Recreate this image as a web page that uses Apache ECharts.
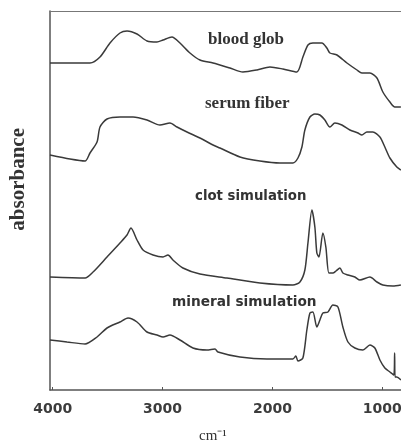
<!DOCTYPE html>
<html>
<head>
<meta charset="utf-8">
<script src="https://cdn.jsdelivr.net/npm/echarts@6/dist/echarts.min.js"></script>
<style>
html,body{margin:0;padding:0;background:#fff;}
#chart{width:401px;height:444px;}
</style>
</head>
<body>
<div id="chart"></div>
<script>
// Wavenumber ticks (cm^-1)
const xTicks = [4000, 3000, 2000, 1000];

// Spectra: [wavenumber, absorbance (offset, arbitrary units)]
const bloodGlob = [
  [4025,3.27],[3661,3.27],[3570,3.33],[3479,3.47],[3388,3.57],[3324,3.59],[3233,3.56],
  [3142,3.49],[3051,3.48],[2996,3.50],[2915,3.53],[2842,3.47],[2751,3.37],[2660,3.30],
  [2541,3.27],[2387,3.22],[2269,3.18],[2141,3.20],[2023,3.23],[1905,3.21],[1778,3.18],
  [1723,3.33],[1677,3.45],[1632,3.47],[1550,3.47],[1505,3.42],[1477,3.37],[1413,3.35],
  [1322,3.27],[1231,3.20],[1186,3.17],[1113,3.17],[1049,3.12],[995,2.98],[931,2.88],
  [886,2.83],[831,2.83]
];
const serumFiber = [
  [4025,2.35],[3843,2.31],[3706,2.29],[3661,2.37],[3597,2.48],[3570,2.63],[3506,2.71],
  [3388,2.73],[3269,2.73],[3142,2.70],[3024,2.65],[2933,2.67],[2869,2.63],[2778,2.58],
  [2660,2.52],[2541,2.45],[2478,2.42],[2296,2.33],[2114,2.29],[1932,2.27],[1814,2.27],
  [1768,2.32],[1732,2.43],[1705,2.60],[1659,2.73],[1614,2.76],[1568,2.75],[1523,2.70],
  [1477,2.63],[1432,2.67],[1368,2.65],[1295,2.60],[1222,2.57],[1186,2.55],[1141,2.58],
  [1086,2.58],[1022,2.53],[977,2.43],[931,2.32],[868,2.23],[831,2.20]
];
const clotSimulation = [
  [4025,1.13],[3706,1.12],[3633,1.18],[3506,1.33],[3388,1.47],[3324,1.55],[3288,1.62],
  [3233,1.50],[3178,1.40],[3087,1.35],[2996,1.33],[2951,1.35],[2906,1.30],[2815,1.22],
  [2660,1.16],[2414,1.12],[2114,1.07],[1814,1.05],[1750,1.08],[1705,1.20],[1677,1.47],
  [1641,1.80],[1614,1.63],[1596,1.37],[1577,1.33],[1541,1.57],[1514,1.43],[1486,1.17],
  [1450,1.17],[1422,1.19],[1386,1.22],[1359,1.17],[1313,1.15],[1250,1.13],[1204,1.10],
  [1113,1.13],[1049,1.08],[995,1.05],[904,1.04],[831,1.05]
];
const mineralSimulation = [
  [4025,0.50],[3870,0.48],[3706,0.46],[3597,0.53],[3506,0.62],[3388,0.68],[3315,0.72],
  [3233,0.68],[3142,0.58],[3051,0.55],[2996,0.53],[2933,0.55],[2842,0.50],[2724,0.42],
  [2596,0.40],[2523,0.41],[2496,0.38],[2296,0.33],[2050,0.31],[1814,0.31],[1787,0.34],
  [1768,0.29],[1723,0.32],[1687,0.60],[1659,0.77],[1632,0.78],[1596,0.63],[1568,0.70],
  [1541,0.77],[1495,0.78],[1450,0.85],[1404,0.83],[1359,0.63],[1313,0.48],[1250,0.42],
  [1177,0.40],[1113,0.45],[1068,0.42],[1022,0.30],[977,0.22],[931,0.18],[895,0.15],
  [888,0.37],[884,0.13],[868,0.13],[831,0.10]
];

const seriesNames = ['blood glob','serum fiber','clot simulation','mineral simulation'];
const seriesData = [bloodGlob, serumFiber, clotSimulation, mineralSimulation];

const lineColor = '#3a3a3a';
const axisColor = '#555';

const chart = echarts.init(document.getElementById('chart'), null, {renderer:'canvas'});
chart.setOption({
  animation: false,
  backgroundColor: '#fff',
  grid: {left: 50, right: 0, top: 11, bottom: 54, outerBoundsMode: 'none', containLabel: false},
  xAxis: [{
    type: 'value', inverse: true, min: 830, max: 4025, position: 'bottom',
    axisLine: {show: true, lineStyle: {color: axisColor, width: 1.5}},
    axisTick: {show: true, inside: true, length: 3, customValues: xTicks, lineStyle: {color: axisColor}},
    axisLabel: {customValues: xTicks, margin: 12, fontFamily: 'DejaVu Sans', fontWeight: 'bold',
      fontSize: 14, color: '#3c3c3c', formatter: v => String(v)},
    splitLine: {show: false}
  },{
    type: 'value', inverse: true, min: 830, max: 4025, position: 'top',
    axisLine: {show: true, onZero: false, lineStyle: {color: '#777', width: 1.2}},
    axisTick: {show: false}, axisLabel: {show: false}, splitLine: {show: false}
  }],
  yAxis: {
    type: 'value', min: 0, max: 3.79,
    axisLine: {show: true, lineStyle: {color: axisColor, width: 1.5}},
    axisTick: {show: false}, axisLabel: {show: false}, splitLine: {show: false}
  },
  series: seriesData.map((d, i) => ({
    name: seriesNames[i], type: 'line', data: d, xAxisIndex: 0,
    showSymbol: false, smooth: 0.25,
    lineStyle: {color: lineColor, width: 1.5}
  })),
  graphic: [
    {type:'text', left: 208, top: 31, style:{text:'blood glob', font:'bold 17px "Liberation Serif"', fill:'#333'}},
    {type:'text', left: 205, top: 95, style:{text:'serum fiber', font:'bold 17px "Liberation Serif"', fill:'#333'}},
    {type:'text', left: 195, top: 190, style:{text:'clot simulation', font:'bold 13.3px "DejaVu Sans"', fill:'#333'}},
    {type:'text', left: 172, top: 295, style:{text:'mineral simulation', font:'bold 13.7px "DejaVu Sans"', fill:'#333'}},
    {type:'text', left: 8, top: 128, rotation: Math.PI/2, originX: 0, originY: 0,
      style:{text:'absorbance', font:'bold 21px "Liberation Serif"', fill:'#333'}},
    {type:'text', left: 199, top: 429, style:{text:'cm\u207B\u00B9', font:'15px "Liberation Serif"', fill:'#333'}}
  ]
});
</script>
</body>
</html>
